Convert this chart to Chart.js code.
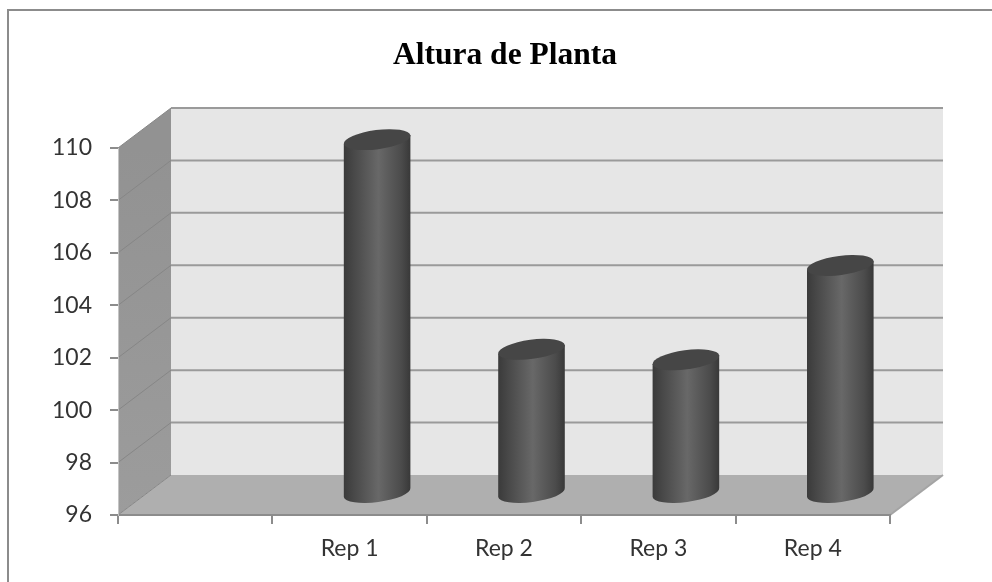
<!DOCTYPE html>
<html>
<head>
<meta charset="utf-8">
<title>Altura de Planta</title>
<script src="https://cdn.jsdelivr.net/npm/chart.js@4"></script>
<style>
    html, body { margin: 0; padding: 0; background: #fff; overflow: hidden; }
    canvas { display: block; }
</style>
</head>
<body>
<canvas id="chart" width="992" height="582"></canvas>
<script>
const categories = ["", "Rep 1", "Rep 2", "Rep 3", "Rep 4"];
const alturas = [null, 109.5, 101.5, 101.1, 104.7];
const yMin = 96;
const yMax = 110;
const yStep = 2;

// Fake 3D box: how far the back wall sits from the front plane
const wallDX = 53;
const wallDY = -40;
// Cylinders stand in the middle of the floor
const barDX = 27.5;
const barDY = -21.5;
const lineGray = "#8c8c8c";

function fillPoly(ctx, pts, color) {
    ctx.beginPath();
    pts.forEach((p, i) => i ? ctx.lineTo(p[0], p[1]) : ctx.moveTo(p[0], p[1]));
    ctx.closePath();
    ctx.fillStyle = color;
    ctx.fill();
}

function strokeLine(ctx, x1, y1, x2, y2, color, width) {
    ctx.beginPath();
    ctx.moveTo(x1, y1);
    ctx.lineTo(x2, y2);
    ctx.strokeStyle = color;
    ctx.lineWidth = width;
    ctx.stroke();
}

const box3d = {
    id: "box3d",
    afterLayout(chart) {
        // title sits slightly right of the plot centre
        chart.titleBlock.left += 1;
        chart.titleBlock.right += 1;
    },
    beforeDraw(chart) {
        const ctx = chart.ctx;
        const a = chart.chartArea;
        const y = chart.scales.y;
        const bottom = y.getPixelForValue(yMin);
        const top = y.getPixelForValue(yMax);
        ctx.save();

        // outer frame, only left and top are visible
        strokeLine(ctx, 8, 582, 8, 10, lineGray, 2);
        strokeLine(ctx, 7, 10, 992, 10, lineGray, 2);

        // walls and floor
        fillPoly(ctx, [[a.left + wallDX, top + wallDY], [a.right + wallDX, top + wallDY],
            [a.right + wallDX, bottom + wallDY], [a.left + wallDX, bottom + wallDY]], "#e6e6e6");
        const side = ctx.createLinearGradient(0, top, 0, bottom);
        side.addColorStop(0, "#929292");
        side.addColorStop(1, "#9c9c9c");
        fillPoly(ctx, [[a.left, top], [a.left + wallDX, top + wallDY],
            [a.left + wallDX, bottom + wallDY], [a.left, bottom]], side);
        fillPoly(ctx, [[a.left, bottom], [a.left + wallDX, bottom + wallDY],
            [a.right + wallDX, bottom + wallDY], [a.right, bottom]], "#afafaf");

        // gridlines wrap around the side wall and the back wall
        y.ticks.forEach(t => {
            const py = y.getPixelForValue(t.value);
            strokeLine(ctx, a.left, py, a.left + wallDX, py + wallDY, "#868686", 1);
            if (t.value > yMin) {
                strokeLine(ctx, a.left + wallDX, py + wallDY, a.right + wallDX, py + wallDY, "#9a9a9a", 2);
            }
        });
        strokeLine(ctx, a.right, bottom, a.right + wallDX, bottom + wallDY, "#a4a4a4", 2);
        ctx.restore();
    },
    afterDatasetsDraw(chart) {
        const ctx = chart.ctx;
        const tilt = -7.5 * Math.PI / 180;
        chart.getDatasetMeta(0).data.forEach((bar, i) => {
            if (alturas[i] === null) return;
            const cx = bar.x + barDX;
            const topY = bar.y + barDY;
            const baseY = bar.base + barDY;
            const rx = bar.width / 2;
            const ry = 9.6;
            const sx = rx * Math.cos(tilt);
            const sy = rx * Math.sin(tilt);

            const body = ctx.createLinearGradient(cx - rx, 0, cx + rx, 0);
            body.addColorStop(0, "#3a3a3a");
            body.addColorStop(0.14, "#474747");
            body.addColorStop(0.52, "#686868");
            body.addColorStop(0.86, "#4b4b4b");
            body.addColorStop(1, "#383838");

            ctx.save();
            ctx.beginPath();
            ctx.moveTo(cx - sx, topY - sy);
            ctx.lineTo(cx + sx, topY + sy);
            ctx.lineTo(cx + sx, baseY + sy);
            ctx.ellipse(cx, baseY, rx, ry, tilt, 0, Math.PI);
            ctx.closePath();
            ctx.fillStyle = body;
            ctx.fill();

            ctx.beginPath();
            ctx.ellipse(cx, topY, rx, ry, tilt, 0, Math.PI * 2);
            ctx.fillStyle = "#464646";
            ctx.fill();
            ctx.restore();
        });
    }
};

new Chart(document.getElementById("chart"), {
    type: "bar",
    data: {
        labels: categories,
        datasets: [{
            label: "Altura de Planta",
            data: alturas,
            base: yMin,
            backgroundColor: "rgba(0,0,0,0)",
            barPercentage: 0.435,
            categoryPercentage: 1
        }]
    },
    options: {
        responsive: false,
        animation: false,
        layout: { padding: { left: 0, right: 102, top: 0, bottom: 0 } },
        plugins: {
            legend: { display: false },
            tooltip: { enabled: false },
            title: {
                display: true,
                text: "Altura de Planta",
                fullSize: false,
                color: "#000",
                font: { family: "'Liberation Serif'", size: 31.5, weight: "bold" },
                padding: { top: 37, bottom: 73.2 }
            }
        },
        scales: {
            x: {
                afterFit(s) { s.height = 67; },
                grid: { drawOnChartArea: false, tickLength: 9, color: lineGray, lineWidth: 2 },
                border: { color: lineGray, width: 2 },
                ticks: { color: "#333", padding: 11, maxRotation: 0, autoSkip: false,
                    font: { family: "Lato", size: 23 } }
            },
            y: {
                min: yMin,
                max: yMax,
                afterFit(s) { s.width = 118; },
                grid: { drawOnChartArea: false, tickLength: 8, color: lineGray, lineWidth: 2 },
                border: { color: "#c4c4c4", width: 1 },
                ticks: { stepSize: yStep, color: "#333", padding: 18,
                    font: { family: "Lato", size: 23 } }
            }
        }
    },
    plugins: [box3d]
});
</script>
</body>
</html>
